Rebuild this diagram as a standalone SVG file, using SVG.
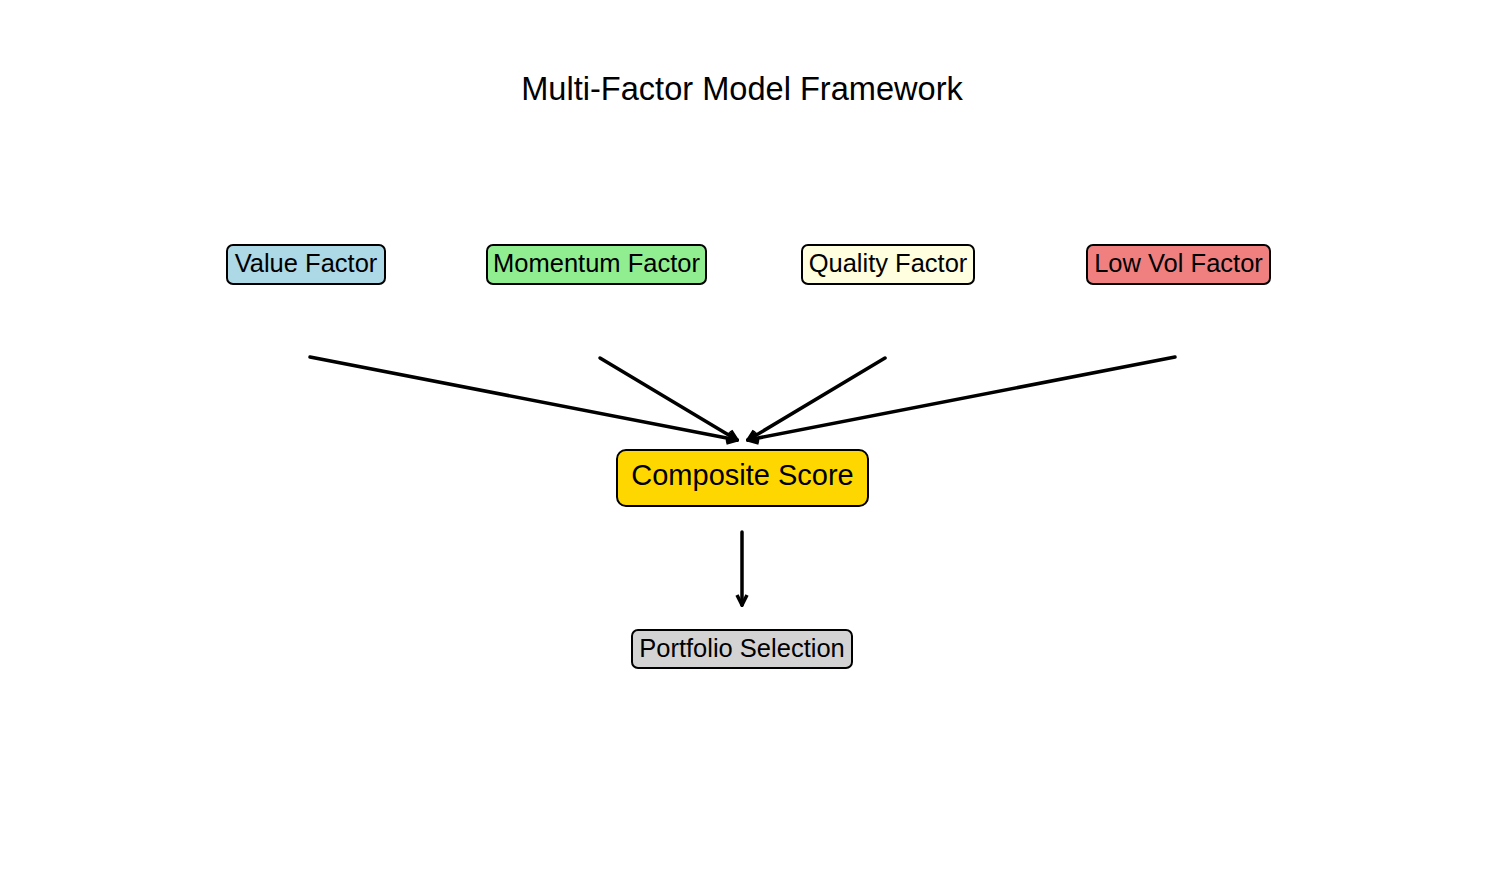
<svg xmlns="http://www.w3.org/2000/svg" width="1485" height="885" viewBox="0 0 1485 885">
<defs>
<style>
.box{stroke:#000;stroke-width:2}
.t{font-family:"Liberation Sans",Arial,sans-serif;fill:#000;text-anchor:middle}
.s{font-size:25.5px}
.edge{stroke:#000;stroke-width:3.5;fill:none;stroke-linecap:round}
</style>
<marker id="ah" viewBox="0 0 14 14" refX="12" refY="7" markerWidth="14" markerHeight="14" markerUnits="userSpaceOnUse" orient="auto">
<path d="M2,2 L12,7 L2,12" fill="none" stroke="#000" stroke-width="3.5" stroke-linejoin="miter"/>
</marker>
</defs>
<rect width="1485" height="885" fill="#fff"/>
<text class="t" x="742" y="100" font-size="32.6">Multi-Factor Model Framework</text>
<g id="connectors">
<line class="edge" x1="310" y1="357" x2="737" y2="440" marker-end="url(#ah)"/>
<line class="edge" x1="600" y1="358" x2="737" y2="440" marker-end="url(#ah)"/>
<line class="edge" x1="885" y1="358" x2="748" y2="440" marker-end="url(#ah)"/>
<line class="edge" x1="1175" y1="357" x2="748" y2="440" marker-end="url(#ah)"/>
<line class="edge" x1="742" y1="532" x2="742" y2="605" marker-end="url(#ah)"/>
</g>
<g id="value">
<rect class="box" x="227" y="245" width="158" height="39" rx="6" fill="#ADD8E6"/>
<text class="t s" x="306" y="272">Value Factor</text>
</g>
<g id="momentum">
<rect class="box" x="487" y="245" width="219" height="39" rx="6" fill="#90EE90"/>
<text class="t s" x="596.5" y="272">Momentum Factor</text>
</g>
<g id="quality">
<rect class="box" x="802" y="245" width="172" height="39" rx="6" fill="#FFFFE0"/>
<text class="t s" x="888" y="272">Quality Factor</text>
</g>
<g id="lowvol">
<rect class="box" x="1087" y="245" width="183" height="39" rx="6" fill="#F08080"/>
<text class="t s" x="1178.5" y="272">Low Vol Factor</text>
</g>
<g id="composite">
<rect class="box" x="617" y="450" width="251" height="56" rx="9" fill="#FFD700"/>
<text class="t" x="742.5" y="485" font-size="29">Composite Score</text>
</g>
<g id="portfolio">
<rect class="box" x="632" y="630" width="220" height="38" rx="6" fill="#D3D3D3"/>
<text class="t s" x="742" y="657">Portfolio Selection</text>
</g>
</svg>
